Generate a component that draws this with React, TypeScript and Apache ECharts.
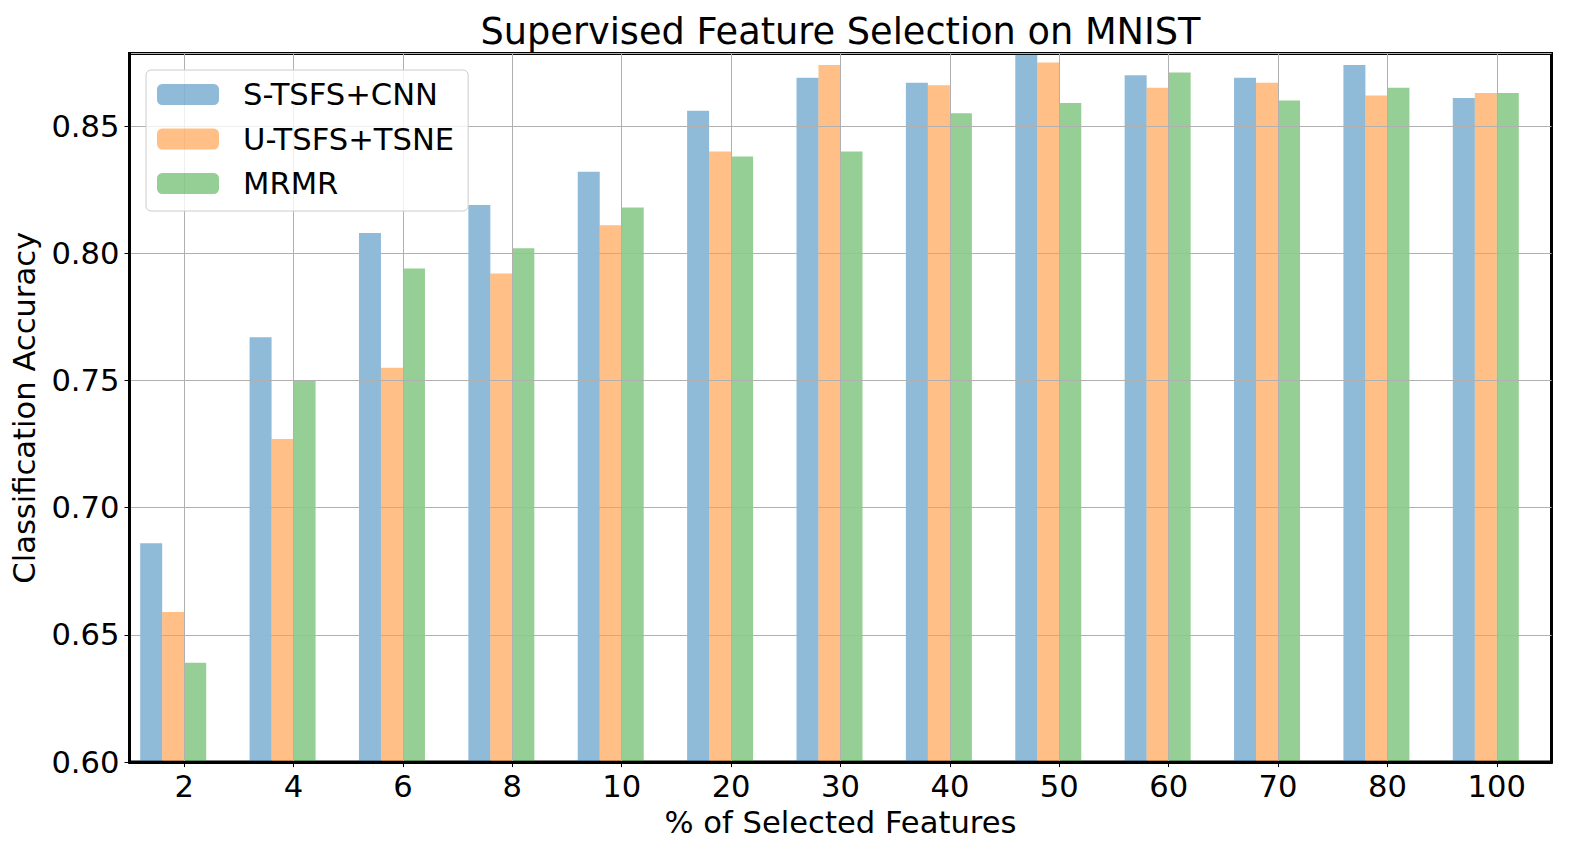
import React, { useEffect, useRef } from "react";
import * as echarts from "echarts";

const categories = ["2", "4", "6", "8", "10", "20", "30", "40", "50", "60", "70", "80", "100"];
const sTsfsCnn = [0.686, 0.767, 0.808, 0.819, 0.832, 0.856, 0.869, 0.867, 0.878, 0.870, 0.869, 0.874, 0.861];
const uTsfsTsne = [0.659, 0.727, 0.755, 0.792, 0.811, 0.840, 0.874, 0.866, 0.875, 0.865, 0.867, 0.862, 0.863];
const mrmr = [0.639, 0.750, 0.794, 0.802, 0.818, 0.838, 0.840, 0.855, 0.859, 0.871, 0.860, 0.865, 0.863];
const seriesNames = ["S-TSFS+CNN", "U-TSFS+TSNE", "MRMR"];
const yTicks = [0.6, 0.65, 0.7, 0.75, 0.8, 0.85];

const FONT = "DejaVu Sans";
const FS = 30.6;

export default function App() {
  const ref = useRef<HTMLDivElement>(null);
  useEffect(() => {
    const chart = echarts.init(ref.current!, null, { renderer: "svg" });
    const colors = ["#1f77b4", "#ff7f0e", "#2ca02c"];
    const datasets = [sTsfsCnn, uTsfsTsne, mrmr];
    const barSeries: any[] = datasets.map((d, i) => ({
      type: "bar",
      name: seriesNames[i],
      data: d,
      barWidth: 22,
      barGap: "0%",
      itemStyle: { color: colors[i], opacity: 0.5 },
      z: 2,
    }));
    // empty slot so the three bars sit left of the tick as in the reference
    barSeries.push({ type: "bar", name: "_pad", data: [], barWidth: 22, barGap: "0%" });

    chart.setOption({
      animation: false,
      title: {
        text: "Supervised Feature Selection on MNIST",
        left: 840.5,
        textAlign: "center",
        top: 13,
        padding: 0,
        textStyle: { fontFamily: FONT, fontSize: 36.7, fontWeight: "normal", color: "#000" },
      },
      legend: {
        data: seriesNames.map((n, i) => ({ name: n, itemStyle: { color: colors[i], opacity: 0.5 } })),
        orient: "vertical",
        left: 146,
        top: 70,
        itemWidth: 62,
        itemHeight: 21,
        itemGap: 13.5,
        padding: [9, 14, 12, 11],
        backgroundColor: "rgba(255,255,255,0.8)",
        borderColor: "#cccccc",
        borderWidth: 1,
        borderRadius: 5,
        textStyle: { fontFamily: FONT, fontSize: FS, color: "#000", padding: [0, 0, 0, 19] },
        z: 20,
      },
      grid: {
        left: 129.5,
        right: 35.5,
        top: 53.5,
        bottom: 79,
        show: true,
        borderColor: "#000",
        borderWidth: 3,
        backgroundColor: "#fff",
      },
      xAxis: {
        type: "category",
        data: categories,
        z: 10,
        name: "% of Selected Features",
        nameLocation: "middle",
        nameGap: 43,
        nameTextStyle: { fontFamily: FONT, fontSize: FS, color: "#000" },
        axisLine: { show: true, lineStyle: { color: "#000", width: 3 } },
        axisTick: { show: true, alignWithLabel: true, length: 5, lineStyle: { color: "#000", width: 1 } },
        axisLabel: { fontFamily: FONT, fontSize: FS, color: "#000", margin: 9 },
        splitLine: { show: true, alignWithLabel: true, lineStyle: { color: "#b0b0b0", width: 1 } },
      },
      yAxis: {
        type: "value",
        min: yTicks[0],
        max: 0.8785,
        interval: 0.05,
        z: 10,
        name: "Classification Accuracy",
        nameLocation: "middle",
        nameGap: 86,
        nameTextStyle: { fontFamily: FONT, fontSize: FS, color: "#000" },
        axisLine: { show: true, lineStyle: { color: "#000", width: 3 } },
        axisTick: { show: true, length: 5, lineStyle: { color: "#000", width: 1 } },
        axisLabel: {
          fontFamily: FONT,
          fontSize: FS,
          color: "#000",
          margin: 10,
          showMaxLabel: false,
          formatter: (v: number) => {
            const ok = yTicks.some((t) => Math.abs(t - v) < 1e-6);
            return ok ? v.toFixed(2) : "";
          },
        },
        splitLine: { show: true, lineStyle: { color: "#b0b0b0", width: 1 } },
      },
      series: barSeries,
    });
    return () => chart.dispose();
  }, []);
  return (
    <div
      ref={ref}
      style={{ position: "fixed", left: 0, top: 0, width: 1587, height: 843, background: "#fff" }}
    />
  );
}
